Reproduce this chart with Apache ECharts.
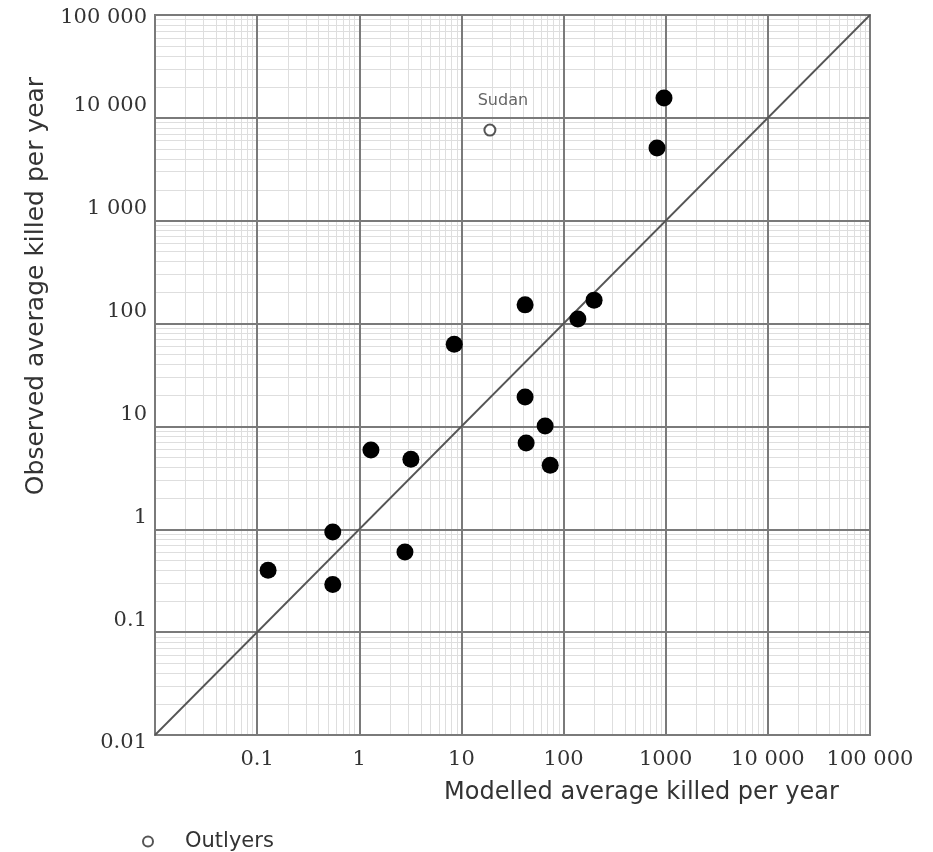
<!DOCTYPE html>
<html>
<head>
<meta charset="utf-8">
<script src="https://cdn.jsdelivr.net/npm/echarts@6/dist/echarts.min.js"></script>
<style>
html,body{margin:0;padding:0;background:#fff;}
#chart{width:933px;height:852px;}
</style>
</head>
<body>
<div id="chart"></div>
<script>
// ---- data ----
const modelled = [0.128, 0.55, 0.55, 2.8, 1.3, 3.2, 8.5, 42, 199, 138, 42, 66, 43, 74, 962, 822];
const observed = [0.40, 0.94, 0.29, 0.60, 5.9, 4.8, 63, 152, 169, 111, 19.3, 10.1, 6.9, 4.2, 15600, 5090];
const outlierModelled = [19];
const outlierObserved = [7600];
const outlierNames = ['Sudan'];
const parityLine = [0.01, 100000];
const xTickLabels = ['', '0.1', '1', '10', '100', '1000', '10 000', '100 000'];
const yTickLabels = ['0.01', '0.1', '1', '10', '100', '1 000', '10 000', '100 000'];
const decades = [-2, -1, 0, 1, 2, 3, 4];
const minorMultipliers = [2, 3, 4, 5, 6, 7, 8, 9];
const xTitle = 'Modelled average killed per year';
const yTitle = 'Observed average killed per year';
const legendLabel = 'Outlyers';

// ---- build ----
const minorValues = [];
decades.forEach(k => minorMultipliers.forEach(m => minorValues.push(m * Math.pow(10, k))));
const minorMarks = minorValues.map(v => ({xAxis: v})).concat(minorValues.map(v => ({yAxis: v})));

const serif = 'DejaVu Serif';
const sans = 'DejaVu Sans';
const idx = v => Math.round(Math.log10(v)) + 2;

const chart = echarts.init(document.getElementById('chart'));
chart.setOption({
  animation: false,
  backgroundColor: '#fff',
  grid: {left: 155, top: 15, width: 715, height: 720, show: true, borderColor: '#7a7a7a', borderWidth: 2, backgroundColor: 'transparent'},
  legend: {
    data: [legendLabel], left: 137, top: 826, itemWidth: 64, itemHeight: 10,
    textStyle: {fontFamily: sans, fontSize: 21, color: '#333'}
  },
  xAxis: {
    type: 'log', logBase: 10, min: 0.01, max: 100000, splitNumber: 7, z: 1,
    axisLine: {show: true, lineStyle: {color: '#7a7a7a', width: 2}},
    axisTick: {show: false},
    splitLine: {show: true, lineStyle: {color: '#7a7a7a', width: 2}},
    axisLabel: {
      margin: 14, fontFamily: serif, fontSize: 21, color: '#333',
      showMinLabel: true, showMaxLabel: true, hideOverlap: false,
      formatter: v => xTickLabels[idx(v)]
    },
    name: xTitle, nameLocation: 'middle', nameGap: 46,
    nameTextStyle: {fontFamily: sans, fontSize: 24, color: '#333', padding: [0, 0, 0, 258]}
  },
  yAxis: {
    type: 'log', logBase: 10, min: 0.01, max: 100000, splitNumber: 7, z: 1,
    axisLine: {show: true, lineStyle: {color: '#7a7a7a', width: 2}},
    axisTick: {show: false},
    splitLine: {show: true, lineStyle: {color: '#7a7a7a', width: 2}},
    axisLabel: {
      margin: 8, color: '#333', showMinLabel: true, showMaxLabel: true, hideOverlap: false,
      formatter: v => {
        const i = idx(v);
        const tag = i === 7 ? 't' : (i === 0 ? 'b' : 'm');
        return '{' + tag + '|' + yTickLabels[i] + '}';
      },
      rich: {
        t: {fontFamily: serif, fontSize: 21, color: '#333', padding: [6, 0, 0, 0]},
        m: {fontFamily: serif, fontSize: 21, color: '#333', padding: [0, 0, 24, 0]},
        b: {fontFamily: serif, fontSize: 21, color: '#333', padding: [16, 0, 0, 0]}
      }
    },
    name: yTitle, nameLocation: 'middle', nameGap: 100,
    nameTextStyle: {fontFamily: sans, fontSize: 25, color: '#333', padding: [0, 0, 0, 178]}
  },
  series: [
    {
      type: 'line', z: 0, silent: true, data: [],
      markLine: {
        silent: true, z: 0, symbol: ['none', 'none'], animation: false,
        label: {show: false},
        lineStyle: {color: '#dedede', width: 1, type: 'solid'},
        emphasis: {disabled: true},
        data: minorMarks
      }
    },
    {
      type: 'line', silent: true, symbol: 'none', z: 3,
      lineStyle: {color: '#555', width: 1.8},
      data: parityLine.map(v => [v, v])
    },
    {
      type: 'scatter', symbol: 'circle', symbolSize: 17, z: 4,
      itemStyle: {color: '#000', opacity: 1},
      data: modelled.map((m, i) => [m, observed[i]])
    },
    {
      name: legendLabel, type: 'scatter', symbol: 'circle', symbolSize: 11, z: 4,
      itemStyle: {color: '#fff', borderColor: '#555', borderWidth: 2, opacity: 1},
      label: {show: true, position: 'top', offset: [13, -10], fontFamily: sans, fontSize: 16, color: '#666',
              formatter: p => outlierNames[p.dataIndex]},
      data: outlierModelled.map((m, i) => [m, outlierObserved[i]])
    }
  ]
});
</script>
</body>
</html>
